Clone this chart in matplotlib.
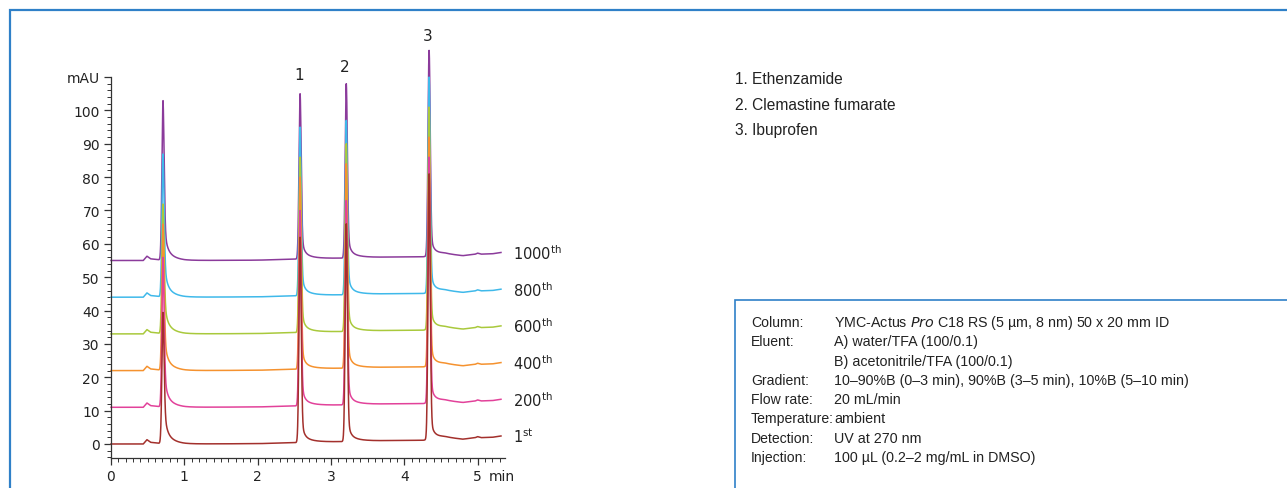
import numpy as np
import matplotlib
matplotlib.use("Agg")
import matplotlib.pyplot as plt
from matplotlib.patches import Rectangle

W, H = 1287, 489

# injection runs, stacked with a fixed offset
runs = ["1st", "200th", "400th", "600th", "800th", "1000th"]
colors = ["#a3302c", "#e2429a", "#f5922f", "#a9c93c", "#3fb9ea", "#8b3b9b"]
offsets = [0, 11, 22, 33, 44, 55]

# retention times (min): void, peak 1, peak 2, peak 3
peak_times = [0.71, 2.58, 3.21, 4.34]
peak_labels = ["1", "2", "3"]

# apex values (mAU, absolute incl. offset)
void_tops = [39.5, 56, 66, 72, 87, 103]
p1_tops = [62, 70, 80, 86, 95, 105]
p2_tops = [66, 73, 84, 90, 97, 108]
p3_tops = [81, 86, 92, 101, 110, 118]

# baseline drift relative to each run's offset
base_t = [0, 0.44, 0.49, 0.54, 0.66, 1.0, 2.0, 2.5, 2.9, 3.15, 3.5, 4.0,
          4.25, 4.55, 4.8, 4.97, 5.0, 5.05, 5.2, 5.32]
base_v = [0, 0, 1.3, 0.5, 0.2, 0, 0.1, 0.4, 0.6, 0.7, 0.9, 1.1,
          1.1, 1.9, 1.4, 1.9, 2.2, 1.9, 2.0, 2.4]

# tailing after each peak: fast and slow part
fast_tail = [10, 8, 8, 8]
slow_tail = [5.0, 2.6, 2.6, 2.4]
slow_tau = [0.10, 0.12, 0.12, 0.12]
sigma = 0.015

t = np.linspace(0, 5.32, 4000)

fig = plt.figure(figsize=(W / 100, H / 100), dpi=100)
ax = fig.add_axes([111 / W, 30 / H, 394 / W, 381 / H])

for i in reversed(range(len(runs))):
    y = offsets[i] + np.interp(t, base_t, base_v)
    tops = [void_tops[i], p1_tops[i], p2_tops[i], p3_tops[i]]
    for k, tr in enumerate(peak_times):
        h = tops[k] - offsets[i] - np.interp(tr, base_t, base_v)
        g = np.exp(-0.5 * ((t - tr) / sigma) ** 2)
        tail = fast_tail[k] * np.exp(-(t - tr) / 0.03) + slow_tail[k] * np.exp(-(t - tr) / slow_tau[k])
        y = y + (h - fast_tail[k] - slow_tail[k]) * g
        y = y + np.where(t > tr, tail, (fast_tail[k] + slow_tail[k]) * g)
    ax.plot(t, y, color=colors[i], lw=1.1, clip_on=False)
    ax.text(5.48, offsets[i] + 2.4, runs[i][:-2] + r"$^{\mathrm{" + runs[i][-2:] + "}}$",
            fontsize=10.5, va="center", ha="left", color="#222222")

for k, lab in enumerate(peak_labels):
    ax.text(peak_times[k + 1] - 0.02, [110.8, 113, 122.5][k], lab,
            fontsize=11, ha="center", va="center", color="#222222")

ax.set_xlim(0, 5.375)
ax.set_ylim(-4.2, 110)
for s in ["top", "right"]:
    ax.spines[s].set_visible(False)
for s in ["left", "bottom"]:
    ax.spines[s].set_color("#333333")
    ax.spines[s].set_linewidth(0.9)

ax.set_yticks(list(range(0, 101, 10)) + [110])
ax.set_yticklabels([str(v) for v in range(0, 101, 10)] + ["mAU"])
ax.set_yticks(np.arange(-4, 110, 2), minor=True)
ax.set_xticks(range(6))
ax.set_xticklabels(["0", "1", "2", "3", "4", "5"])
ax.set_xticks(np.arange(0, 5.4, 0.1), minor=True)
ax.text(5.15, -9.6, "min", fontsize=10, ha="left", va="center", color="#222222")
ax.tick_params(which="major", length=5, width=0.9, color="#333333",
               labelsize=10, labelcolor="#222222", pad=3)
ax.tick_params(which="minor", length=3, width=0.7, color="#333333")

# compound list
compounds = ["1. Ethenzamide", "2. Clemastine fumarate", "3. Ibuprofen"]
for j, c in enumerate(compounds):
    fig.text(735 / W, 1 - (79 + 26 * j) / H, c, fontsize=11.2,
             family="Liberation Sans", va="center", ha="left", color="#222222")

# method conditions
cond_keys = ["Column:", "Eluent:", "", "Gradient:", "Flow rate:",
             "Temperature:", "Detection:", "Injection:"]
cond_vals = ["YMC-Actus $\\it{Pro}$ C18 RS (5 µm, 8 nm) 50 x 20 mm ID",
             "A) water/TFA (100/0.1)",
             "B) acetonitrile/TFA (100/0.1)",
             "10–90%B (0–3 min), 90%B (3–5 min), 10%B (5–10 min)",
             "20 mL/min",
             "ambient",
             "UV at 270 nm",
             "100 µL (0.2–2 mg/mL in DMSO)"]
for j in range(len(cond_keys)):
    yy = 1 - (323 + 19.3 * j) / H
    fig.text(751 / W, yy, cond_keys[j], fontsize=10.1, family="Liberation Sans",
             va="center", ha="left", color="#222222")
    fig.text(834 / W, yy, cond_vals[j], fontsize=10.3, family="Liberation Sans",
             va="center", ha="left", color="#222222")

# frames
fig.patches.append(Rectangle((10 / W, -0.1), 1.2, 1 - 11 / H + 0.1, transform=fig.transFigure,
                             fill=False, edgecolor="#2f80c8", lw=1.6))
fig.patches.append(Rectangle((735 / W, -0.1), 1.2, 1 - 301 / H + 0.1, transform=fig.transFigure,
                             fill=False, edgecolor="#2f80c8", lw=1.2))

fig.savefig("out.png", dpi=100)
